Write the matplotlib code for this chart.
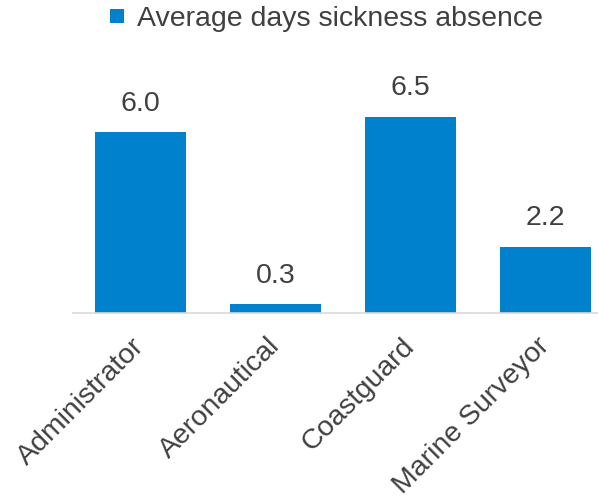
import matplotlib.pyplot as plt
from matplotlib.lines import Line2D

plt.rcParams['font.family'] = ['Liberation Sans', 'DejaVu Sans']

categories = ['Administrator', 'Aeronautical', 'Coastguard', 'Marine Surveyor']
values = [6.0, 0.3, 6.5, 2.2]
labels = ['6.0', '0.3', '6.5', '2.2']

BAR = '#0081CD'
TXT = '#404040'
FS = 20.5

fig = plt.figure(figsize=(5.98, 5.03), dpi=100)
# axes placed in pixel terms: left 73, width 540, baseline at y=313
ax = fig.add_axes([73 / 598, (503 - 313) / 503, 540 / 598, 241.6 / 503])

x = range(len(categories))
bars = ax.bar(x, values, width=0.667, color=BAR)
for xi, v, lab in zip(x, values, labels):
    ax.annotate(lab, (xi, v), xytext=(0, 11), textcoords='offset points',
                ha='center', va='bottom', fontsize=FS, color=TXT)

ax.set_xlim(-0.5, 3.5)
ax.set_ylim(0, 8)
for s in ['top', 'right', 'left']:
    ax.spines[s].set_visible(False)
ax.spines['bottom'].set_color('#d9d9d9')
ax.spines['bottom'].set_linewidth(1.2)
ax.set_yticks([])
ax.set_xticks(list(x))
ax.set_xticklabels(categories, rotation=45, ha='right', va='center',
                   rotation_mode='anchor', fontsize=FS, color=TXT)
ax.tick_params(axis='x', length=0, pad=21)

# square legend key
handle = Line2D([], [], marker='s', linestyle='none', markersize=9.5,
                markerfacecolor=BAR, markeredgewidth=0)
fig.legend([handle], ['Average days sickness absence'], loc='center',
           bbox_to_anchor=(326 / 598, 1 - 19 / 503), frameon=False,
           fontsize=FS, labelcolor=TXT, handlelength=0.5,
           handletextpad=0.45)

fig.savefig('out.png', dpi=100)
